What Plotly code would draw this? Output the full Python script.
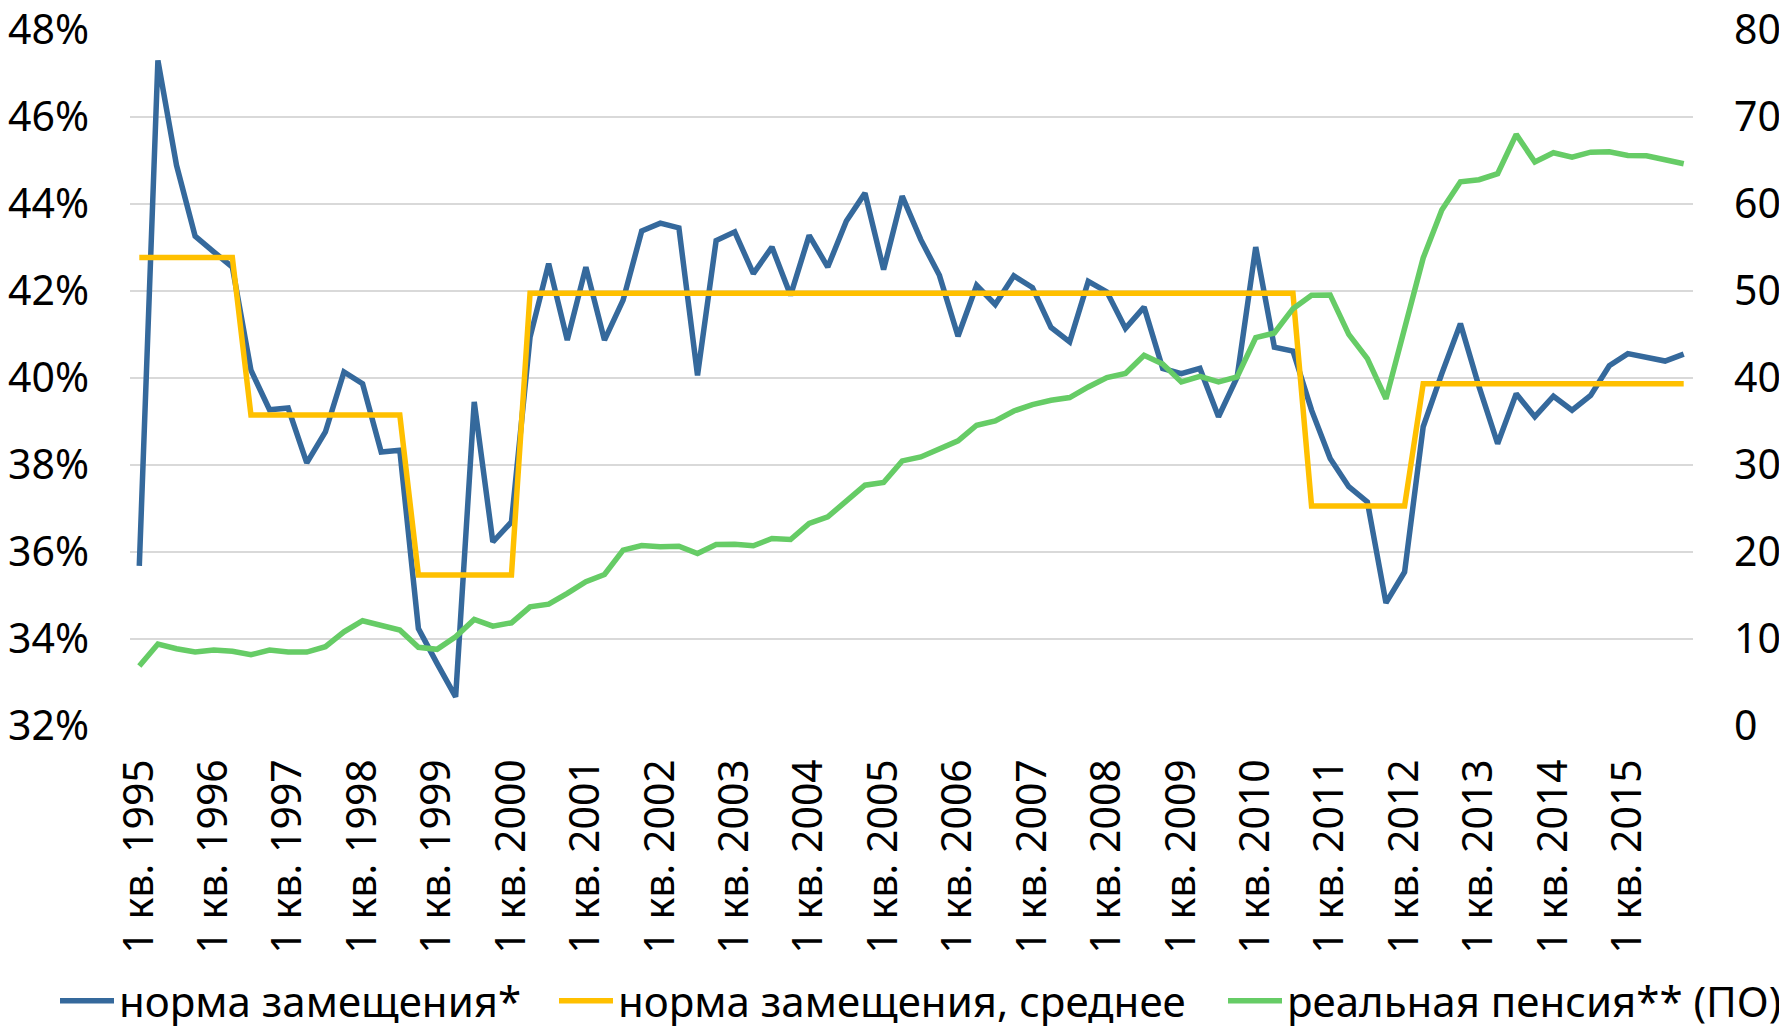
import plotly.graph_objects as go

years = list(range(1995, 2016))
quarters = [f"{q} кв. {y}" for y in years for q in (1, 2, 3, 4)]
tick_labels = [f"1 кв. {y}" for y in years]

replacement_rate = [
    35.68, 47.30, 44.89, 43.26, 42.90, 42.55, 40.18, 39.27, 39.31, 38.05,
    38.76, 40.14, 39.87, 38.30, 38.34, 34.24, 33.44, 32.67, 39.45, 36.23,
    36.69, 40.94, 42.63, 40.87, 42.55, 40.87, 41.79, 43.38, 43.56, 43.45,
    40.06, 43.16, 43.36, 42.40, 43.01, 41.90, 43.28, 42.55, 43.61, 44.25,
    42.49, 44.18, 43.18, 42.36, 40.96, 42.13, 41.69, 42.35, 42.08, 41.16,
    40.83, 42.22, 41.98, 41.14, 41.63, 40.22, 40.10, 40.22, 39.11, 40.02,
    43.01, 40.71, 40.62, 39.26, 38.15, 37.50, 37.15, 34.83, 35.54, 38.88,
    40.10, 41.25, 39.80, 38.49, 39.64, 39.11, 39.58, 39.26, 39.60, 40.28,
    40.56, 40.48, 40.39, 40.55,
]

replacement_avg = (
    [42.77] * 6 + [39.15] * 9 + [35.47] * 6 + [41.95] * 42 + [37.06] * 6 + [39.87] * 15
)

real_pension = [
    6.89, 9.42, 8.88, 8.50, 8.73, 8.58, 8.19, 8.73, 8.50, 8.50,
    9.11, 10.83, 12.10, 11.56, 11.03, 9.04, 8.81, 10.26, 12.25, 11.48,
    11.86, 13.70, 14.01, 15.24, 16.58, 17.42, 20.21, 20.75, 20.60, 20.67,
    19.83, 20.87, 20.90, 20.71, 21.56, 21.44, 23.28, 24.04, 25.88, 27.68,
    27.99, 30.47, 30.93, 31.89, 32.77, 34.57, 35.07, 36.21, 36.95, 37.44,
    37.75, 38.97, 40.05, 40.51, 42.61, 41.60, 39.55, 40.20, 39.55, 40.12,
    44.64, 45.17, 47.97, 49.50, 49.55, 45.02, 42.23, 37.60, 45.86, 53.80,
    59.30, 62.55, 62.79, 63.48, 68.00, 64.82, 65.89, 65.39, 65.96, 66.00,
    65.58, 65.55, 65.09, 64.63,
]

names = ["норма замещения*", "норма замещения, среднее", "реальная пенсия** (ПО)"]
colors = ["#35699C", "#FFC000", "#66CC66"]

FONT = "Noto Sans"
LW = 5.5

fig = go.Figure()
fig.add_trace(go.Scatter(x=quarters, y=replacement_rate, mode="lines", name=names[0],
                         line=dict(color=colors[0], width=LW), legend="legend"))
fig.add_trace(go.Scatter(x=quarters, y=replacement_avg, mode="lines", name=names[1],
                         line=dict(color=colors[1], width=LW), legend="legend2"))
fig.add_trace(go.Scatter(x=quarters, y=real_pension, mode="lines", name=names[2],
                         line=dict(color=colors[2], width=LW), yaxis="y2", legend="legend3"))

leg_common = dict(orientation="h", xref="container", yref="container", yanchor="middle",
                  y=1 - 1001 / 1026, font=dict(family=FONT, size=42, color="black"),
                  bgcolor="rgba(0,0,0,0)", itemwidth=54, tracegroupgap=0)

fig.update_layout(
    width=1779, height=1026,
    margin=dict(l=130, r=86, t=30, b=300, autoexpand=False),
    paper_bgcolor="white", plot_bgcolor="white",
    font=dict(family=FONT, size=41, color="black"),
    xaxis=dict(type="category", categoryorder="array", categoryarray=quarters,
               range=[-0.5, len(quarters) - 0.5],
               tickmode="array", tickvals=tick_labels, ticktext=tick_labels,
               tickangle=-90, showgrid=False, showline=False, zeroline=False,
               ticks="", ticklabelstandoff=24, automargin=False,
               tickfont=dict(family=FONT, size=41, color="black")),
    yaxis=dict(range=[32, 48], dtick=2, tick0=32, ticksuffix="%",
               showgrid=True, gridcolor="#D9D9D9", gridwidth=1.5, zeroline=False,
               showline=False, ticks="", ticklabelstandoff=40, automargin=False,
               tickfont=dict(family=FONT, size=41, color="black")),
    yaxis2=dict(range=[0, 80], dtick=10, tick0=0, overlaying="y", side="right",
                showgrid=False, zeroline=False, showline=False, ticks="",
                ticklabelstandoff=40, automargin=False,
                tickfont=dict(family=FONT, size=41, color="black")),
    legend=dict(x=55 / 1779, xanchor="left", **leg_common),
    legend2=dict(x=554 / 1779, xanchor="left", **leg_common),
    legend3=dict(x=1223 / 1779, xanchor="left", **leg_common),
    showlegend=True,
)

fig.write_html(
    "out.html",
    config={"displayModeBar": False},
    post_script="document.body.style.margin='0';document.body.style.overflow='hidden';",
)
